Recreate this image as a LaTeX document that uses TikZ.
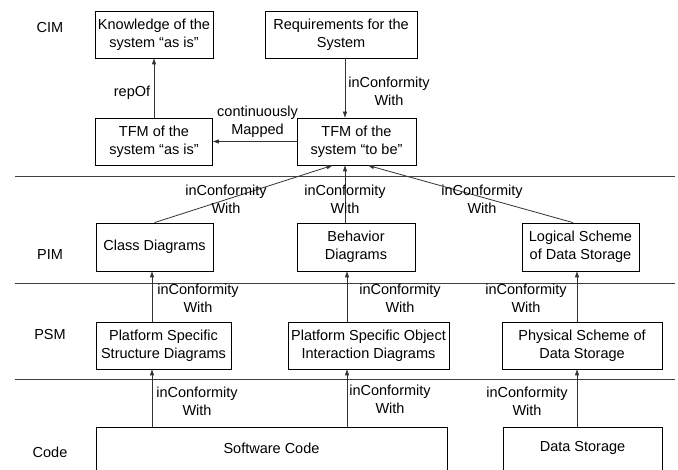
\documentclass[tikz,border=0pt]{standalone}
\usepackage{fontspec}
\setmainfont{Liberation Sans}
\usetikzlibrary{arrows.meta}
\begin{document}
\begin{tikzpicture}[x=1pt,y=-1pt,
 every node/.style={font=\fontsize{14.5}{18}\selectfont},
 box/.style={draw=black,line width=0.8pt,inner sep=0pt,align=center,minimum height=47pt},
 lbl/.style={align=center,inner sep=0pt},
 arr/.style={draw=black!80,line width=0.8pt,-{Triangle[length=6pt,width=4pt]}},
 sep/.style={draw=black!75,line width=0.9pt}]
\useasboundingbox (0,0) rectangle (678,470);
\begin{scope}
\clip (0,0) rectangle (678,470);
% layer separators
\coordinate (s1a) at (15,176); \coordinate (s1b) at (675,176);
\coordinate (s2a) at (15,283); \coordinate (s2b) at (675,283);
\coordinate (s3a) at (15,379); \coordinate (s3b) at (675,379);
\draw[sep] (s1a) -- (s1b);
\draw[sep] (s2a) -- (s2b);
\draw[sep] (s3a) -- (s3b);
% layer names
\node[lbl] (cim) at (50,28) {CIM};
\node[lbl] (pim) at (50,255) {PIM};
\node[lbl] (psm) at (50,335) {PSM};
\node[lbl] (code) at (50,452) {Code};
% boxes
\node[box,minimum width=118pt] (know) at (154,34.5) {Knowledge of the\\system “as is”};
\node[box,minimum width=152pt] (req) at (341,34.5) {Requirements for the\\System};
\node[box,minimum width=117pt] (tfmA) at (154,141.5) {TFM of the\\system “as is”};
\node[box,minimum width=119pt] (tfmB) at (356.5,141.5) {TFM of the\\system “to be”};
\node[box,minimum width=117pt,minimum height=48pt] (class) at (154.5,247) {Class Diagrams};
\node[box,minimum width=118pt,minimum height=48pt] (behav) at (356,247) {Behavior\\Diagrams};
\node[box,minimum width=117pt,minimum height=48pt] (logic) at (580.5,247) {Logical Scheme\\of Data Storage};
\node[box,minimum width=135pt] (pss) at (163.5,345.5) {Platform Specific\\Structure Diagrams};
\node[box,minimum width=161pt] (psoi) at (368.5,345.5) {Platform Specific Object\\Interaction Diagrams};
\node[box,minimum width=160pt] (phys) at (582,345.5) {Physical Scheme of\\Data Storage};
\node[box,minimum width=351pt,minimum height=80pt,anchor=north] (soft) at (271.5,427) {};
\node[lbl] (softt) at (271.5,448) {Software Code};
\node[box,minimum width=159pt,minimum height=80pt,anchor=north] (data) at (582.5,427) {};
\node[lbl] (datat) at (582.5,448) {Data Storage};
% guide x positions
\coordinate (v) at (345,0);
\coordinate (c1) at (152,0);
\coordinate (c2) at (347,0);
\coordinate (c3) at (577,0);
% connectors
\draw[arr] (tfmA.north) -- (know.south);
\draw[arr] (tfmB.west) -- (tfmB.west -| tfmA.east);
\draw[arr] (req.south -| v) -- (tfmB.north -| v);
\draw[arr] (class.north) -- ([xshift=-24pt]tfmB.south);
\draw[arr] (behav.north -| v) -- (tfmB.south -| v);
\draw[arr] ([xshift=-7.5pt]logic.north) -- ([xshift=11.5pt]tfmB.south);
\draw[arr] (pss.north -| c1) -- (class.south -| c1);
\draw[arr] (psoi.north -| c2) -- (behav.south -| c2);
\draw[arr] (phys.north -| c3) -- (logic.south -| c3);
\draw[arr] (soft.north -| c1) -- (pss.south -| c1);
\draw[arr] (soft.north -| c2) -- (psoi.south -| c2);
\draw[arr] (data.north -| c3) -- (phys.south -| c3);
% connector labels
\node[lbl] (lrep) at (132,93) {repOf};
\node[lbl] (lmap) at (257.5,122) {continuously\\Mapped};
\node[lbl] (l0) at (389,91.5) {inConformity\\With};
\node[lbl] (l1) at (226,199) {inConformity\\With};
\node[lbl] (l2) at (345,199) {inConformity\\With};
\node[lbl] (l3) at (482,199) {inConformity\\With};
\node[lbl] (l4) at (198,298.5) {inConformity\\With};
\node[lbl] (l5) at (400,298.5) {inConformity\\With};
\node[lbl] (l6) at (526,298) {inConformity\\With};
\node[lbl] (l7) at (197,401.5) {inConformity\\With};
\node[lbl] (l8) at (390,399) {inConformity\\With};
\node[lbl] (l9) at (527,401.5) {inConformity\\With};
\end{scope}
\end{tikzpicture}
\end{document}
